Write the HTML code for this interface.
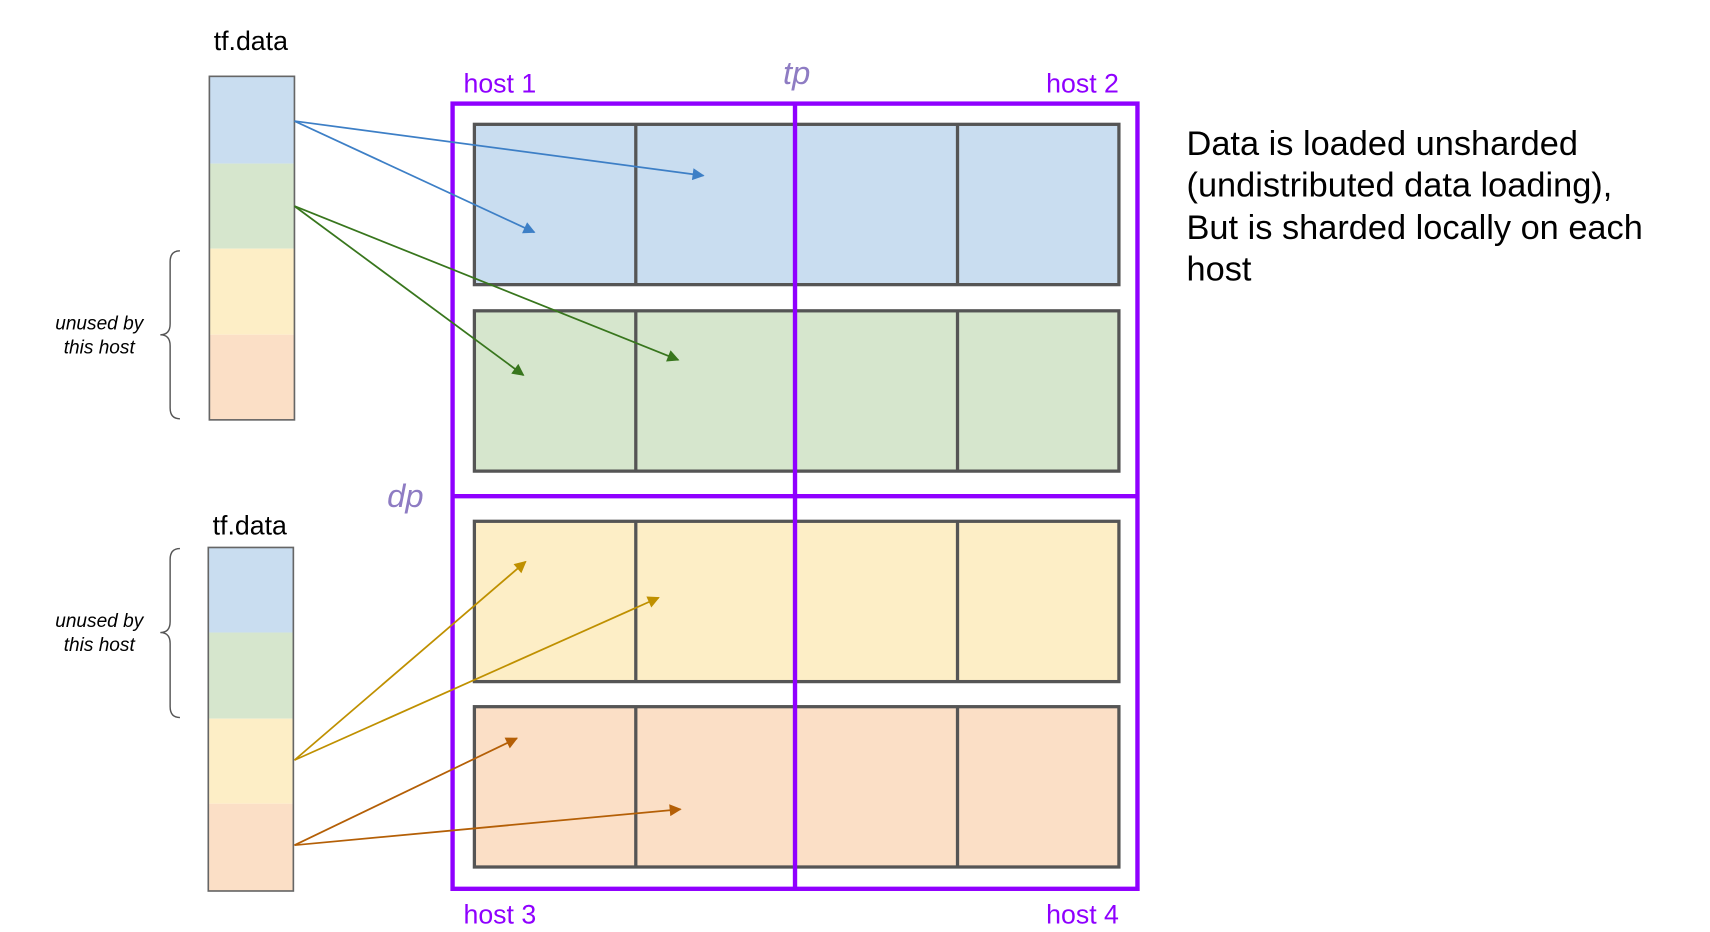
<!DOCTYPE html>
<html><head><meta charset="utf-8"><style>html,body{margin:0;padding:0;background:#fff}svg{display:block}</style></head>
<body>
<svg width="1710" height="932" viewBox="0 0 1568 854.6" xmlns="http://www.w3.org/2000/svg" font-family="Liberation Sans, sans-serif">
<defs>
<marker id="ab" viewBox="0 0 10 10" refX="9" refY="5" markerWidth="15" markerHeight="11" markerUnits="userSpaceOnUse" orient="auto"><path d="M0,0 L10,5 L0,10z" fill="#3d7fc6"/></marker>
<marker id="ag" viewBox="0 0 10 10" refX="9" refY="5" markerWidth="15" markerHeight="11" markerUnits="userSpaceOnUse" orient="auto"><path d="M0,0 L10,5 L0,10z" fill="#38761d"/></marker>
<marker id="ay" viewBox="0 0 10 10" refX="9" refY="5" markerWidth="15" markerHeight="11" markerUnits="userSpaceOnUse" orient="auto"><path d="M0,0 L10,5 L0,10z" fill="#bf9000"/></marker>
<marker id="ao" viewBox="0 0 10 10" refX="9" refY="5" markerWidth="15" markerHeight="11" markerUnits="userSpaceOnUse" orient="auto"><path d="M0,0 L10,5 L0,10z" fill="#b45f06"/></marker>
</defs>
<text x="230" y="46" font-size="24.5" text-anchor="middle">tf.data</text>
<rect x="192" y="70" width="78" height="80" fill="#c9ddf0"/>
<rect x="192" y="150" width="78" height="78" fill="#d6e6cd"/>
<rect x="192" y="228" width="78" height="79" fill="#fdeec6"/>
<rect x="192" y="307" width="78" height="78" fill="#fbdfc6"/>
<rect x="192" y="70" width="78" height="315" fill="none" stroke="#666" stroke-width="1.5"/>
<text x="229" y="490" font-size="24.5" text-anchor="middle">tf.data</text>
<rect x="191" y="502" width="78" height="78" fill="#c9ddf0"/>
<rect x="191" y="580" width="78" height="79" fill="#d6e6cd"/>
<rect x="191" y="659" width="78" height="78" fill="#fdeec6"/>
<rect x="191" y="737" width="78" height="80" fill="#fbdfc6"/>
<rect x="191" y="502" width="78" height="315" fill="none" stroke="#666" stroke-width="1.5"/>
<path d="M165,230 Q156,230 156,240 L156,297 Q156,307 147,307 Q156,307 156,317 L156,374 Q156,384 165,384" fill="none" stroke="#555" stroke-width="1.3"/>
<path d="M165,503 Q156,503 156,513 L156,570 Q156,580 147,580 Q156,580 156,590 L156,648 Q156,658 165,658" fill="none" stroke="#555" stroke-width="1.3"/>
<g font-size="17.5" font-style="italic" text-anchor="middle">
<text x="91" y="302">unused by</text><text x="91" y="324">this host</text>
<text x="91" y="575">unused by</text><text x="91" y="597">this host</text>
</g>
<g stroke="#555" stroke-width="3">
<rect x="435" y="114" width="591" height="147" fill="#c9ddf0"/>
<rect x="435" y="285" width="591" height="147" fill="#d6e6cd"/>
<rect x="435" y="478" width="591" height="147" fill="#fdeec6"/>
<rect x="435" y="648" width="591" height="147" fill="#fbdfc6"/>
<path d="M583,114V261M878,114V261M583,285V432M878,285V432M583,478V625M878,478V625M583,648V795M878,648V795"/>
</g>
<g stroke="#8f00ff" stroke-width="4" fill="none">
<rect x="415" y="95" width="628" height="720"/>
<path d="M729,95V815M415,455H1043"/>
</g>
<g fill="#8f00ff" font-size="24.5">
<text x="425" y="85">host 1</text><text x="1026" y="85" text-anchor="end">host 2</text>
<text x="425" y="847">host 3</text><text x="1026" y="847" text-anchor="end">host 4</text>
</g>
<g fill="#8e7cc3" font-size="30" font-style="italic">
<text x="718" y="77">tp</text><text x="355" y="465">dp</text>
</g>
<g stroke-width="1.6" fill="none">
<path d="M270,111L645,161" stroke="#3d7fc6" marker-end="url(#ab)"/>
<path d="M270,111L490,213" stroke="#3d7fc6" marker-end="url(#ab)"/>
<path d="M270,189L622,330" stroke="#38761d" marker-end="url(#ag)"/>
<path d="M270,189L480,344" stroke="#38761d" marker-end="url(#ag)"/>
<path d="M270,697L482,515" stroke="#bf9000" marker-end="url(#ay)"/>
<path d="M270,697L604,548" stroke="#bf9000" marker-end="url(#ay)"/>
<path d="M270,775L474,677" stroke="#b45f06" marker-end="url(#ao)"/>
<path d="M270,775L624,742" stroke="#b45f06" marker-end="url(#ao)"/>
</g>
<g font-size="31.5">
<text x="1088" y="142">Data is loaded unsharded</text>
<text x="1088" y="180">(undistributed data loading),</text>
<text x="1088" y="219">But is sharded locally on each</text>
<text x="1088" y="257">host</text>
</g>
</svg>
</body></html>
